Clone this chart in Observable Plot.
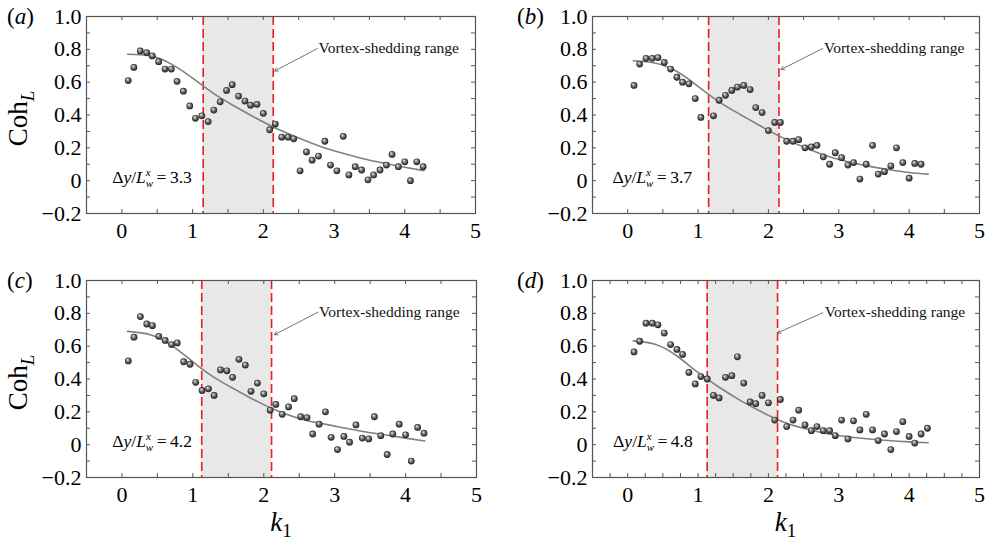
<!DOCTYPE html>
<html><head><meta charset="utf-8">
<script src="https://cdn.jsdelivr.net/npm/d3@7"></script>
<script src="https://cdn.jsdelivr.net/npm/@observablehq/plot@0.6"></script>
<style>
html,body{margin:0;padding:0;background:#fff;}
#root{position:relative;width:988px;height:542px;overflow:hidden;background:#fff;}
.panel{position:absolute;}
.panel svg{display:block;overflow:visible;max-width:none;}
</style></head><body>
<svg width="0" height="0" style="position:absolute">
 <defs>
  <radialGradient id="sph" cx="0.5" cy="0.5" r="0.55" fx="0.36" fy="0.3">
   <stop offset="0" stop-color="#f6f6f6"/>
   <stop offset="0.28" stop-color="#a0a0a0"/>
   <stop offset="0.72" stop-color="#3c3c3c"/>
   <stop offset="1" stop-color="#1a1a1a"/>
  </radialGradient>
 </defs>
</svg>
<div id="root"></div>
<script>
// ---------------- data ----------------
const k1 = [0.09,0.17,0.26,0.35,0.43,0.52,0.61,0.70,0.78,0.87,0.96,1.04,1.13,1.22,1.30,1.39,1.48,1.56,1.65,1.74,1.82,1.91,2.00,2.09,2.17,2.26,2.35,2.43,2.52,2.61,2.69,2.78,2.87,2.95,3.04,3.13,3.21,3.30,3.39,3.48,3.56,3.65,3.74,3.82,3.91,4.00,4.08,4.17,4.26];

const cohA = [0.61,0.69,0.79,0.78,0.76,0.725,0.68,0.68,0.605,0.545,0.455,0.38,0.395,0.36,0.43,0.48,0.55,0.585,0.515,0.485,0.46,0.465,0.41,0.31,0.345,0.265,0.265,0.255,0.06,0.175,0.125,0.15,0.24,0.095,0.06,0.27,0.035,0.085,0.065,0.005,0.035,0.065,0.095,0.16,0.085,0.115,0.0,0.115,0.085];
const cohB = [0.58,0.71,0.745,0.745,0.75,0.72,0.68,0.63,0.60,0.59,0.50,0.385,null,0.395,0.49,0.52,0.55,0.57,0.58,0.555,0.445,0.415,0.305,0.355,0.355,0.24,0.24,0.25,0.20,0.205,0.215,0.145,0.10,0.17,0.14,0.095,0.11,0.01,0.10,0.215,0.04,0.055,0.09,0.20,0.11,0.015,0.105,0.10,null];
const cohC = [0.51,0.655,0.78,0.735,0.725,0.66,0.635,0.61,0.62,0.505,0.49,0.38,0.33,0.34,0.30,0.455,0.45,0.41,0.52,0.485,0.325,0.375,0.31,0.21,0.245,0.185,0.23,0.28,0.17,0.165,0.065,0.125,0.20,0.045,-0.03,0.05,0.015,0.12,0.04,0.035,0.17,0.055,-0.06,0.065,0.125,0.06,-0.10,0.105,0.07];
const cohD = [0.565,0.63,0.74,0.74,0.73,0.68,0.61,0.58,0.55,0.44,0.37,0.415,0.40,0.30,0.285,0.41,0.42,0.535,0.375,0.26,0.25,0.30,0.255,0.15,0.275,0.11,0.15,0.21,0.12,0.085,0.11,0.085,0.085,0.055,0.15,0.035,0.145,0.09,0.185,0.09,0.025,0.065,-0.03,0.08,0.14,0.05,0.01,0.065,0.10];

const fitK = [0.08,0.4,0.7,1.0,1.3,1.6,1.9,2.2,2.5,2.8,3.1,3.4,3.7,4.0,4.27];
const fitA = [0.77,0.76,0.71,0.625,0.53,0.452,0.38,0.315,0.26,0.21,0.17,0.135,0.107,0.082,0.061];
const fitB = [0.73,0.715,0.665,0.575,0.48,0.403,0.33,0.262,0.205,0.155,0.118,0.09,0.068,0.05,0.04];
const fitC = [0.69,0.67,0.605,0.505,0.41,0.335,0.265,0.205,0.16,0.13,0.105,0.08,0.06,0.04,0.022];
const fitD = [0.632,0.61,0.54,0.44,0.35,0.27,0.2,0.14,0.10,0.07,0.05,0.036,0.025,0.017,0.012];

const bandA = [1.15,2.14];
const bandB = [1.15,2.15];
const bandC = [1.125,2.11];
const bandD = [1.13,2.13];

const ratios = ["3.3","3.7","4.2","4.8"];
const letters = ["a","b","c","d"];
const vsText = "Vortex-shedding range";

const xDomain = [-0.5, 5];
const yDomain = [-0.2, 1.0];
const xTickLabels = [0,1,2,3,4,5];
const yTickLabels = [-0.2,0,0.2,0.4,0.6,0.8,1.0];
const xTicksHalf = [0,0.5,1,1.5,2,2.5,3,3.5,4,4.5];
const xTicksQuarter = [-0.25,0,0.25,0.5,0.75,1,1.25,1.5,1.75,2,2.25,2.5,2.75,3,3.25,3.5,3.75,4,4.25,4.5,4.75];
const yMinorTicks = [-0.1,0,0.1,0.2,0.3,0.4,0.5,0.6,0.7,0.8,0.9];

// ---------------- drawing ----------------
const FONT = "'Liberation Serif','Times New Roman',serif";
const fmtY = d => d === 0 ? "0" : (d < 0 ? "\u2212" + Math.abs(d).toFixed(1) : d.toFixed(1));

function drawPanel(cfg) {
  const {left, top, width, height, mL, mR, mT, mB} = cfg;
  const fw = width - mL - mR, fh = height - mT - mB;
  const pts = k1.map((k, i) => ({k, c: cfg.coh[i]})).filter(d => d.c != null);
  const fit = fitK.map((k, i) => ({k, c: cfg.fit[i]}));
  const chart = Plot.plot({
    width, height, marginLeft: mL, marginRight: mR, marginTop: mT, marginBottom: mB,
    x: {domain: xDomain}, y: {domain: yDomain},
    style: {fontFamily: FONT, fontSize: "22px", color: "#000", background: "transparent", overflow: "visible"},
    marks: [
      Plot.rect([{x1: cfg.band[0], x2: cfg.band[1], y1: yDomain[0], y2: yDomain[1]}],
        {x1: "x1", x2: "x2", y1: "y1", y2: "y2", fill: "#e8e8e8"}),
      Plot.ruleX(cfg.band, {stroke: "#ec1c24", strokeWidth: 1.6, strokeDasharray: "9,4"}),
      Plot.line(fit, {x: "k", y: "c", stroke: "#808080", strokeWidth: 1.6, curve: "natural"}),
      Plot.dot(pts, {x: "k", y: "c", r: 3.4, fill: "url(#sph)"}),
      Plot.text([{x: cfg.vsX, y: 0.81, t: vsText}], {x: "x", y: "y", text: "t", textAnchor: "start", lineAnchor: "middle", fontSize: 15.5, fill: "#111"}),
      Plot.arrow([cfg.arrow], {x1: "x1", y1: "y1", x2: "x2", y2: "y2", stroke: "#666", strokeWidth: 0.9, headLength: 6}),
      Plot.tickX(cfg.xTicks, {x: d => d, insetTop: fh - 4, stroke: "#555"}),
      Plot.tickX(cfg.xTicks, {x: d => d, insetBottom: fh - 4, stroke: "#555"}),
      Plot.tickY(yMinorTicks, {y: d => d, insetRight: fw - 4, stroke: "#555"}),
      Plot.tickY(yMinorTicks, {y: d => d, insetLeft: fw - 4, stroke: "#555"}),
      Plot.frame({stroke: "#555", strokeWidth: 1.2}),
      Plot.axisX(xTickLabels, {tickSize: 0, tickPadding: 9, fontSize: 22, label: null, tickFormat: d => String(d)}),
      Plot.axisY(yTickLabels, {tickSize: 0, tickPadding: 5, fontSize: 22, label: null, tickFormat: fmtY})
    ]
  });
  const div = document.createElement("div");
  div.className = "panel";
  div.style.left = left + "px"; div.style.top = top + "px";
  div.style.width = width + "px"; div.style.height = height + "px";
  div.appendChild(chart);
  document.getElementById("root").appendChild(div);

  const svg = d3.select(chart);
  const sx = chart.scale("x"), sy = chart.scale("y");

  // Δy/L_w^x = value
  const t = svg.append("text")
    .attr("x", sx.apply(cfg.dX)).attr("y", sy.apply(-0.02)).attr("text-anchor", "start")
    .attr("font-family", FONT).attr("font-size", 17.5).attr("fill", "#000");
  t.append("tspan").text("\u0394");
  t.append("tspan").attr("font-style", "italic").text("y");
  t.append("tspan").text("/");
  t.append("tspan").attr("font-style", "italic").text("L");
  t.append("tspan").attr("font-style", "italic").attr("font-size", 11).attr("dy", -7).text("x");
  t.append("tspan").attr("font-style", "italic").attr("font-size", 11).attr("dy", 11).attr("dx", -5).text("w");
  t.append("tspan").attr("dy", -4).text("\u2009=\u2009" + cfg.ratio);

  // panel letter
  const p = svg.append("text").attr("x", cfg.lx).attr("y", mT + 8).attr("text-anchor", "start")
    .attr("font-family", FONT).attr("font-size", 23).attr("fill", "#000");
  p.append("tspan").text("(");
  p.append("tspan").attr("font-style", "italic").text(cfg.letter);
  p.append("tspan").text(")");

  if (cfg.yTitle) {
    const y = svg.append("text")
      .attr("transform", `translate(27,${mT + fh / 2 + 4}) rotate(-90)`)
      .attr("text-anchor", "middle").attr("font-family", FONT).attr("font-size", 27).attr("fill", "#000");
    y.append("tspan").text("Coh");
    y.append("tspan").attr("font-style", "italic").attr("font-size", 19).attr("dy", 7).text("L");
  }
  if (cfg.xTitle) {
    const x = svg.append("text")
      .attr("x", sx.apply(2.25)).attr("y", height - 11)
      .attr("text-anchor", "middle").attr("font-family", FONT).attr("font-size", 27).attr("fill", "#000");
    x.append("tspan").attr("font-style", "italic").text("k");
    x.append("tspan").attr("font-size", 19).attr("dy", 6).text("1");
  }
}

drawPanel({left: 0, top: 0, width: 494, height: 260, mL: 86, mR: 19, mT: 16, mB: 47,
  coh: cohA, fit: fitA, band: bandA, xTicks: xTicksHalf, vsX: 2.78,
  arrow: {x1: 2.765, y1: 0.805, x2: 2.16, y2: 0.668}, dX: -0.13, ratio: ratios[0], letter: letters[0], lx: 7, yTitle: true, xTitle: false});
drawPanel({left: 494, top: 0, width: 494, height: 260, mL: 98, mR: 9, mT: 16, mB: 47,
  coh: cohB, fit: fitB, band: bandB, xTicks: xTicksHalf, vsX: 2.79,
  arrow: {x1: 2.77, y1: 0.805, x2: 2.18, y2: 0.677}, dX: -0.21, ratio: ratios[1], letter: letters[1], lx: 23, yTitle: false, xTitle: false});
drawPanel({left: 0, top: 260, width: 494, height: 282, mL: 86, mR: 18, mT: 20, mB: 65,
  coh: cohC, fit: fitC, band: bandC, xTicks: xTicksHalf, vsX: 2.78,
  arrow: {x1: 2.765, y1: 0.807, x2: 2.15, y2: 0.67}, dX: -0.13, ratio: ratios[2], letter: letters[2], lx: 7, yTitle: true, xTitle: true});
drawPanel({left: 494, top: 260, width: 494, height: 282, mL: 98, mR: 9, mT: 20, mB: 65,
  coh: cohD, fit: fitD, band: bandD, xTicks: xTicksQuarter, vsX: 2.80,
  arrow: {x1: 2.77, y1: 0.803, x2: 2.13, y2: 0.681}, dX: -0.2, ratio: ratios[3], letter: letters[3], lx: 23, yTitle: false, xTitle: true});
</script>
</body></html>
